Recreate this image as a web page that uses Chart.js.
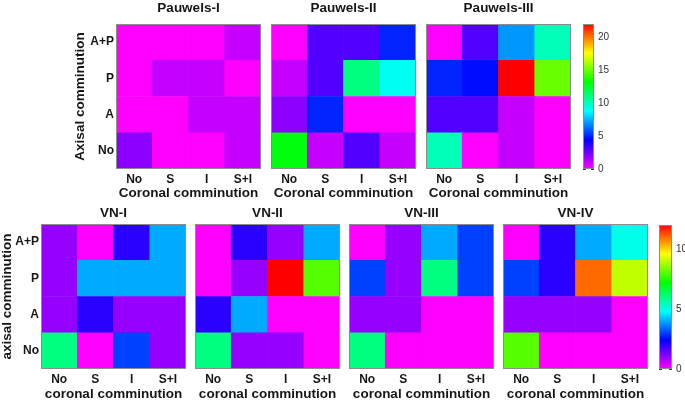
<!DOCTYPE html>
<html>
<head>
<meta charset="utf-8">
<script src="https://cdn.jsdelivr.net/npm/chart.js@4/dist/chart.umd.min.js"></script>
<style>
	html, body { margin:0; padding:0; background:#fff; }
	#wrap { position:relative; width:685px; height:402px; overflow:hidden; }
	#wrap canvas { position:absolute; }
</style>
</head>
<body>
<div id="wrap"></div>
<script>
// categories
const coronal = ['No','S','I','S+I'];
const axial = ['A+P','P','A','No']; // top to bottom, as in the picture

// colour scales
const pauwelsMax = 22;
const vnMax = 12;
const pauwelsTicks = [0,5,10,15,20];
const vnTicks = [0,5,10];

// counts, rows A+P, P, A, No ; columns No, S, I, S+I
const pauwels1 = [[0,0,0,1],[0,1,1,0],[0,0,1,1],[2,0,0,1]];
const pauwels2 = [[0,3,3,5],[1,3,11,9],[2,5,0,0],[13,1,3,1]];
const pauwels3 = [[0,3,7,10],[5,4.6,22,15],[3,3,1,0],[10,0,1,0]];
const vn1 = [[1,0,2,4],[1,4,4,4],[1,2,1,1],[6,0,3,1]];
const vn2 = [[0,2,1,4],[0,1,12,8],[2,4,0,0],[6,1,1,0]];
const vn3 = [[0,1,4,3],[3,1,6,3],[1,1,0,0],[6,0,0,0]];
const vn4 = [[0,2,4,5],[3,2,11,9],[1,1,1,0],[8,0,0,0]];

(function(){
	const wrap = document.getElementById('wrap');
	const FONT = '"Liberation Sans", Arial, sans-serif';
	const INK = '#161616';

	const cmap = (v, max) => `hsl(${300 * (1 - Math.min(v / max, 1))},100%,50%)`;

	const frame = { id:'frame', afterDatasetsDraw(c) {
		const a = c.chartArea, x = c.ctx;
		x.save(); x.strokeStyle = '#8c8c8c'; x.lineWidth = 1;
		x.strokeRect(a.left + 0.5, a.top + 0.5, a.right - a.left - 1, a.bottom - a.top - 1);
		x.restore();
	} };

	const addCanvas = (left, top, w, h) => {
		const cv = document.createElement('canvas');
		cv.width = w; cv.height = h;
		Object.assign(cv.style, { left:left + 'px', top:top + 'px', width:w + 'px', height:h + 'px' });
		wrap.appendChild(cv);
		return cv;
	};

	const heat = (o) => {
		const rows = axial.slice().reverse();
		const grid = o.grid.slice().reverse();
		const yW = o.yTitle ? o.yW : 0;
		new Chart(addCanvas(o.left - yW, o.top, yW + 147, 201), {
			type:'bar',
			data:{ labels:coronal, datasets:grid.map((row, i) => ({
				label:rows[i], data:row.map(() => 1),
				backgroundColor:row.map(v => cmap(v, o.max)),
				borderWidth:0, barPercentage:1, categoryPercentage:1
			})) },
			options:{
				responsive:false, animation:false, devicePixelRatio:1,
				layout:{ padding:{ left:0, right:2, top:0, bottom:0 } },
				plugins:{
					legend:{ display:false }, tooltip:{ enabled:false },
					title:{ display:true, fullSize:false, text:o.title, color:INK,
						font:{ family:FONT, size:13.5, weight:'bold' }, padding:{ top:o.tPadT, bottom:o.tPadB } }
				},
				scales:{
					x:{ stacked:true, grid:{ display:false, drawTicks:false }, border:{ display:false },
						ticks:{ color:INK, padding:3, font:{ family:FONT, size:12, weight:'bold' } },
						title:{ display:true, text:o.xTitle, color:INK, padding:{ top:0, bottom:0 },
							font:{ family:FONT, size:13.5, weight:'bold' } },
						afterFit:(s) => { s.height = o.xH; } },
					y:{ stacked:true, min:0, max:rows.length, display:!!o.yTitle,
						grid:{ display:false, drawTicks:false }, border:{ display:false },
						afterBuildTicks:(s) => { s.ticks = rows.map((_, i) => ({ value:i + 0.5 })); },
						ticks:{ color:INK, padding:2, font:{ family:FONT, size:12, weight:'bold' },
							callback:(v) => rows[Math.floor(v)] },
						title:{ display:!!o.yTitle, text:o.yTitle, color:INK, padding:{ top:0, bottom:0 },
							font:{ family:FONT, size:13.5, weight:'bold' } },
						afterFit:(s) => { s.width = yW; } }
				}
			},
			plugins:[frame]
		});
	};

	const grad = (chart, max) => {
		const { ctx, chartArea, scales } = chart;
		if (!chartArea) return null;
		const y = scales.y, g = ctx.createLinearGradient(0, y.getPixelForValue(0), 0, y.getPixelForValue(max));
		for (let i = 0; i <= 40; i++) g.addColorStop(i / 40, cmap(max * i / 40, max));
		return g;
	};

	const colorbar = (o) => new Chart(addCanvas(o.left, o.top, o.bw + o.yW, 201), {
		type:'bar',
		data:{ labels:[''], datasets:[{ data:[[0, o.max]], backgroundColor:(c) => grad(c.chart, o.max),
			borderWidth:0, barPercentage:1, categoryPercentage:1 }] },
		options:{
			responsive:false, animation:false, devicePixelRatio:1,
			layout:{ padding:{ left:0, right:0, top:o.padT, bottom:o.padB } },
			plugins:{ legend:{ display:false }, tooltip:{ enabled:false } },
			scales:{
				x:{ display:false },
				y:{ position:'right', min:0, max:o.max, z:1,
					afterBuildTicks:(s) => { s.ticks = o.ticks.map(v => ({ value:v })); },
					grid:{ color:'#333', lineWidth:1, drawTicks:false },
					border:{ display:false, dash:o.dash },
					ticks:{ color:'#333', padding:4, font:{ family:FONT, size:10 } },
					afterFit:(s) => { s.width = o.yW; } }
			}
		},
		plugins:[frame]
	});

	// top row
	heat({ left:116, top:0, grid:pauwels1, max:pauwelsMax, title:'Pauwels-I', xTitle:'Coronal comminution',
		yTitle:'Axisal comminution', yW:44, tPadT:0, tPadB:7.8, xH:32 });
	heat({ left:271, top:0, grid:pauwels2, max:pauwelsMax, title:'Pauwels-II', xTitle:'Coronal comminution',
		tPadT:0, tPadB:7.8, xH:32 });
	heat({ left:426, top:0, grid:pauwels3, max:pauwelsMax, title:'Pauwels-III', xTitle:'Coronal comminution',
		tPadT:0, tPadB:7.8, xH:32 });
	colorbar({ left:583, top:0, bw:11, yW:30, max:pauwelsMax, ticks:pauwelsTicks, padT:24, padB:32, dash:[3,5] });

	// bottom row
	heat({ left:41, top:201, grid:vn1, max:vnMax, title:'VN-I', xTitle:'coronal comminution',
		yTitle:'axisal comminution', yW:42, tPadT:3.9, tPadB:2.9, xH:33 });
	heat({ left:195, top:201, grid:vn2, max:vnMax, title:'VN-II', xTitle:'coronal comminution',
		tPadT:3.9, tPadB:2.9, xH:33 });
	heat({ left:349, top:201, grid:vn3, max:vnMax, title:'VN-III', xTitle:'coronal comminution',
		tPadT:3.9, tPadB:2.9, xH:33 });
	heat({ left:503, top:201, grid:vn4, max:vnMax, title:'VN-IV', xTitle:'coronal comminution',
		tPadT:3.9, tPadB:2.9, xH:33 });
	colorbar({ left:659, top:201, bw:13, yW:26, max:vnMax, ticks:vnTicks, padT:24, padB:33, dash:[3,7] });
})();
</script>
</body>
</html>
